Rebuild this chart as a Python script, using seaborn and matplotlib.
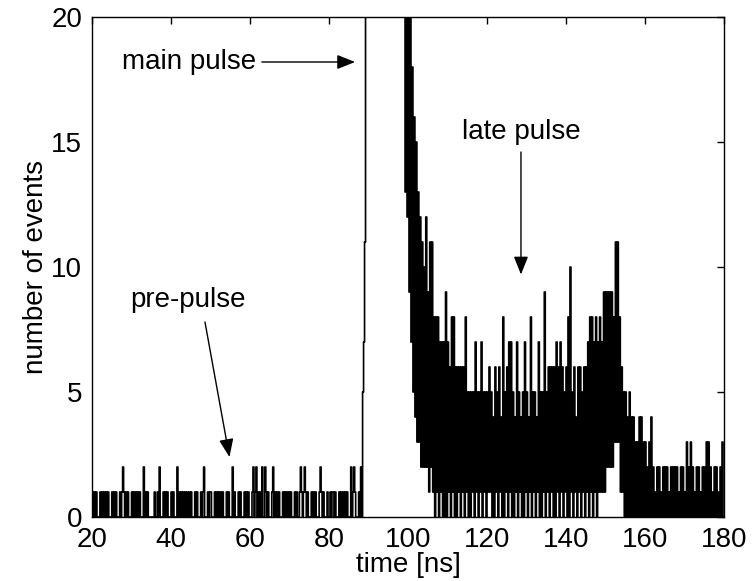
import numpy as np
import pandas as pd
import matplotlib
matplotlib.use("Agg")
import matplotlib.pyplot as plt
import seaborn as sns

# histogram of arrival times, 0.25 ns bins starting at 20 ns
T_START = 20.0
BIN_WIDTH = 0.25

# 20.0 - 88.0 ns (one line = 10 ns)
pre_pulse = [
    1,0,1,0, 1,0,0,0, 1,0,1,0, 1,0,1,0, 1,0,0,0, 1,0,1,0, 1,0,0,0, 1,0,1,2, 1,0,1,0, 1,0,0,0,
    1,0,1,0, 1,0,1,0, 1,0,0,0, 2,0,1,0, 1,0,0,0, 0,0,0,1, 0,0,1,0, 2,0,0,0, 1,0,1,0, 1,0,0,0,
    1,0,1,0, 0,0,2,0, 1,0,1,0, 1,0,1,0, 1,0,1,0, 1,0,0,0, 1,0,1,0, 0,0,1,0, 1,2,0,0, 0,1,0,1,
    1,0,0,0, 1,0,1,0, 1,0,1,0, 1,0,0,0, 1,0,1,0, 0,0,2,0, 1,0,0,0, 1,0,1,0, 0,0,1,0, 1,0,1,0,
    0,0,1,2, 0,1,2,0, 1,0,1,0, 2,0,0,2, 1,0,1,0, 0,0,1,2, 0,1,0,1, 0,1,0,0, 0,1,0,1, 0,1,0,1,
    0,1,0,0, 0,1,0,1, 0,0,1,2, 1,0,1,2, 1,0,1,0, 0,0,1,0, 1,0,1,0, 0,0,1,2, 1,0,1,0, 0,0,1,0,
    0,1,0,1, 1,0,1,0, 0,0,1,0, 1,0,1,0, 1,0,1,0, 0,0,2,0, 1,2,1,0, 0,0,1,0,
]
# 88.0 - 89.25 ns
rise = [2, 0, 5, 7, 11]
# 89.25 - 99.25 ns (far above the axis limit)
main_pulse = [45, 110, 240, 420, 600, 760, 860, 900, 880, 820,
              750, 670, 590, 510, 440, 380, 320, 270, 230, 195,
              165, 140, 118, 100, 86, 74, 65, 58, 52, 47,
              43, 39, 36, 33, 31, 29, 27, 26, 24, 23]
# 99.25 - 120.0 ns
decay = [13, 25, 12, 22, 9, 23, 7, 18, 5, 16,
         4, 15, 3, 13, 3, 12, 2, 11, 2, 10,
         2, 12, 2, 9, 1, 11, 2, 11, 1, 8,
         0, 8, 1, 8, 0, 7, 1, 7, 0, 7,
         0, 9, 0, 7, 1, 6, 0, 8, 1, 8,
         0, 6, 0, 6, 1, 6, 0, 6, 1, 6,
         0, 8, 1, 5, 0, 5, 0, 5, 1, 5,
         0, 7, 1, 5, 0, 5, 1, 7, 0, 5,
         1, 5, 0]
# 120.0 - 156.0 ns
late_pulse = [
    5,1, 6,1, 5,0, 4,0, 6,1, 5,0, 6,1, 4,0, 8,0, 5,1,
    6,0, 7,1, 7,0, 5,0, 4,1, 7,0, 5,1, 4,0, 5,0, 7,1,
    5,0, 4,1, 8,0, 5,1, 5,0, 4,1, 7,0, 5,0, 5,1, 9,0,
    5,1, 6,0, 6,1, 6,0, 6,0, 7,1, 6,0, 7,1, 6,0, 5,1,
    6,0, 8,0, 10,1, 5,0, 6,1, 4,0, 6,1, 6,0, 5,1, 6,0,
    6,1, 7,0, 8,1, 8,0, 7,1, 8,0, 7,1, 8,1, 7,1, 9,1,
    9,2, 9,2, 9,2, 9,2, 8,3, 11,3, 11,3, 8,1, 6,1, 5,0,
    5,0, 4,0,
]
# 156.0 - 180.0 ns
tail = [
    5,0, 4,0, 4,0, 3,0, 3,0, 4,0, 4,0, 3,0, 3,0, 2,0,
    3,0, 4,0, 2,0, 1,0, 2,0, 2,0, 1,0, 2,0, 2,0, 2,0,
    1,0, 2,0, 2,0, 2,0, 2,0, 1,0, 2,0, 2,0, 1,0, 3,0,
    2,0, 3,0, 2,0, 1,0, 2,0, 2,0, 1,0, 2,0, 2,0, 3,0,
    3,0, 2,0, 1,0, 2,0, 2,0, 1,0, 2,0, 3,0,
]

counts = np.array(pre_pulse + rise + main_pulse + decay + late_pulse + tail, dtype=float)
edges = T_START + BIN_WIDTH * np.arange(len(counts) + 1)
df = pd.DataFrame({'time': edges[:-1] + BIN_WIDTH / 2, 'events': counts})

sns.set_theme(style="white")
plt.rcParams['font.family'] = ['Liberation Sans', 'DejaVu Sans']
plt.rcParams['text.color'] = 'black'

fig = plt.figure(figsize=(7.56, 5.81), dpi=100)
ax = fig.add_axes([92 / 756, 1 - 517 / 581, 632 / 756, 500 / 581])

sns.histplot(data=df, x='time', weights='events', bins=edges.tolist(), element="step",
             fill=False, color="black", linewidth=1.2, ax=ax)

ax.set_xlim(20, 180)
ax.set_ylim(0, 20)
ax.set_xticks(np.arange(20, 181, 20))
ax.set_yticks([0, 5, 10, 15, 20])
ax.tick_params(direction='in', top=True, right=True, length=5, width=1,
               labelsize=20, colors='black', pad=7)
for s in ax.spines.values():
    s.set_color('black')
    s.set_linewidth(1)

ax.set_xlabel('time [ns]', fontsize=20, color='black')
ax.set_ylabel('number of events', fontsize=20, color='black')
ax.xaxis.set_label_coords(0.5, -0.07)
ax.yaxis.set_label_coords(-0.068, 0.5)

arrow = dict(arrowstyle='-|>,head_length=0.55,head_width=0.22', color='black',
             lw=1, mutation_scale=20, shrinkA=0, shrinkB=0)
ax.text(44.6, 18.2, 'main pulse', ha='center', va='center', fontsize=20, color='black')
ax.annotate('', xy=(86.6, 18.2), xytext=(63.0, 18.2), arrowprops=arrow)
ax.text(128.6, 15.4, 'late pulse', ha='center', va='center', fontsize=20, color='black')
ax.annotate('', xy=(128.6, 9.7), xytext=(128.6, 14.6), arrowprops=arrow)
ax.text(44.3, 8.7, 'pre-pulse', ha='center', va='center', fontsize=20, color='black')
ax.annotate('', xy=(54.8, 2.4), xytext=(48.6, 7.8), arrowprops=arrow)

fig.savefig('out.png', dpi=100)
